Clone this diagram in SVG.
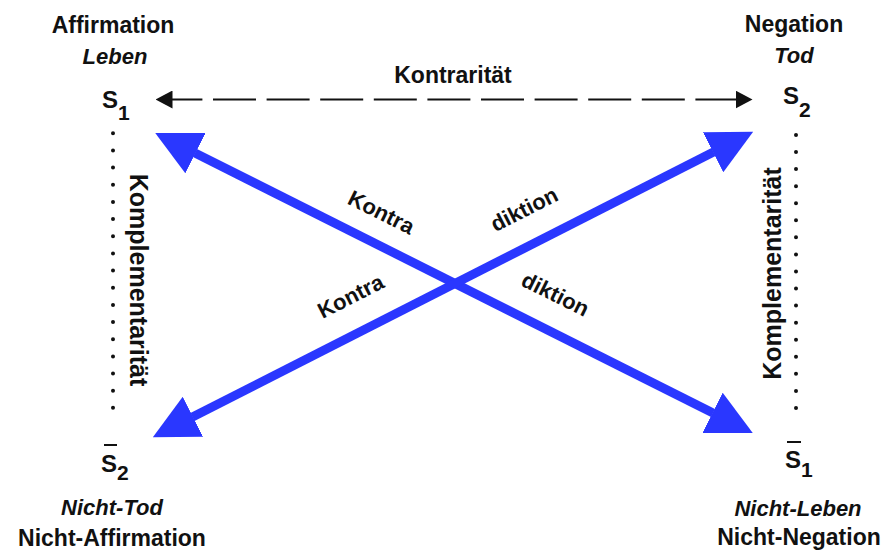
<svg xmlns="http://www.w3.org/2000/svg" width="887" height="552" viewBox="0 0 887 552">
<defs>
<style>
text{font-family:"Liberation Sans",Arial,Helvetica,sans-serif;fill:#111}
.b{font-weight:bold;font-size:23px;text-anchor:middle}
.i{font-weight:bold;font-style:italic;font-size:22px;text-anchor:middle}
.s{font-weight:bold;font-size:24px}
.sub{font-weight:bold;font-size:21px}
.lbl{font-weight:bold;font-size:22px;text-anchor:middle}
.k{font-weight:bold;font-size:25px;text-anchor:middle}
.blue{stroke:#2a37ff;stroke-width:9;fill:none;marker-start:url(#bh);marker-end:url(#bh)}
.dash{stroke:#111;stroke-width:2;fill:none;stroke-dasharray:43 10.6;stroke-dashoffset:12.6;marker-start:url(#kh);marker-end:url(#kh)}
.dots{stroke:#111;stroke-width:4;stroke-linecap:round;fill:none}
.bar{stroke:#111;stroke-width:2}
</style>
<marker id="bh" viewBox="0 0 45 45" markerWidth="45" markerHeight="45" refX="0.5" refY="22.5" orient="auto-start-reverse" markerUnits="userSpaceOnUse">
<path d="M0,0 L45,22.5 L0,45 Z" fill="#2a37ff"/>
</marker>
<marker id="kh" viewBox="0 0 17 18" markerWidth="17" markerHeight="18" refX="0.5" refY="9" orient="auto-start-reverse" markerUnits="userSpaceOnUse">
<path d="M0,0 L17,9 L0,18 Z" fill="#111"/>
</marker>
</defs>
<rect width="887" height="552" fill="#fff"/>

<g id="connectors">
<line class="dash" x1="172" y1="99.5" x2="736" y2="99.5"/>
<text class="b" x="453" y="83">Kontrarität</text>

<line class="dots" x1="113" y1="133.3" x2="113" y2="425" stroke-dasharray="0 17.16"/>
<text class="k" transform="translate(130,280) rotate(90)">Komplementarität</text>

<line class="dots" x1="796" y1="135" x2="796" y2="425" stroke-dasharray="0 17.06"/>
<text class="k" transform="translate(781,273.5) rotate(-90)">Komplementarität</text>

<line class="blue" x1="195" y1="153" x2="713" y2="413"/>
<line class="blue" x1="192.5" y1="417" x2="713.5" y2="152"/>

<text class="lbl" transform="translate(378,219) rotate(26.57)">Kontra</text>
<text class="lbl" transform="translate(527.5,216) rotate(-27)">diktion</text>
<text class="lbl" transform="translate(354,303) rotate(-27)">Kontra</text>
<text class="lbl" transform="translate(552,301) rotate(26.57)">diktion</text>
</g>

<g id="node-s1">
<text class="b" x="113" y="33">Affirmation</text>
<text class="i" x="115" y="64">Leben</text>
<text class="s" x="102" y="107.5">S</text>
<text class="sub" x="118" y="119.5">1</text>
</g>

<g id="node-s2">
<text class="b" x="794" y="32">Negation</text>
<text class="i" x="794" y="63">Tod</text>
<text class="s" x="783" y="104">S</text>
<text class="sub" x="799" y="117">2</text>
</g>

<g id="node-not-s2">
<line class="bar" x1="104" y1="445" x2="117" y2="445"/>
<text class="s" x="101" y="472">S</text>
<text class="sub" x="117" y="480">2</text>
<text class="i" x="112" y="515">Nicht-Tod</text>
<text class="b" x="112" y="546">Nicht-Affirmation</text>
</g>

<g id="node-not-s1">
<line class="bar" x1="787" y1="442" x2="801" y2="442"/>
<text class="s" x="785" y="468">S</text>
<text class="sub" x="801" y="477">1</text>
<text class="i" x="798" y="516">Nicht-Leben</text>
<text class="b" x="799" y="545">Nicht-Negation</text>
</g>
</svg>
